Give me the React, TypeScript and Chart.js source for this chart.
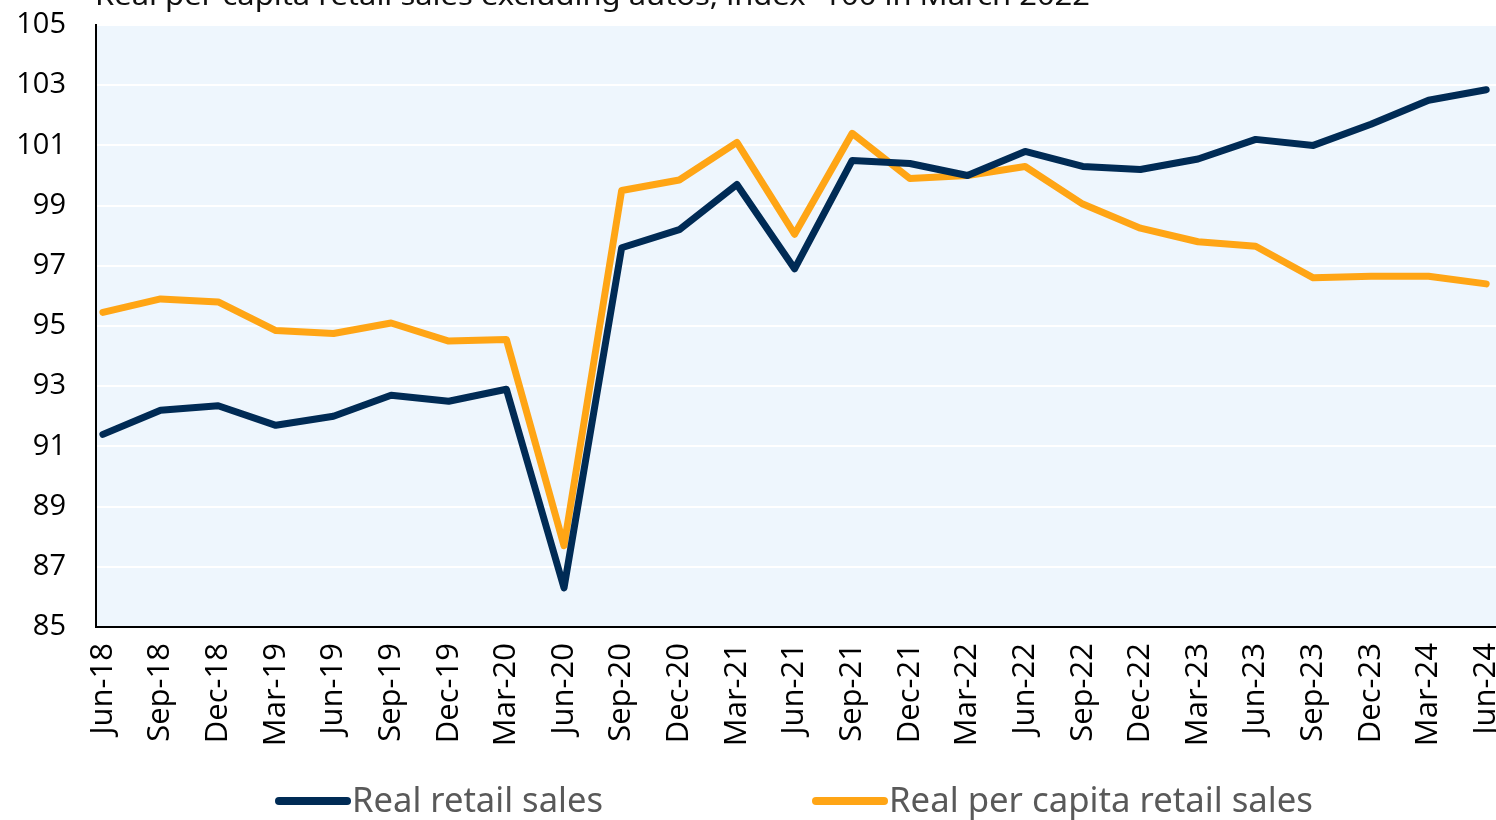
import React, { useEffect, useRef } from "react";
import { Chart, registerables } from "chart.js";

Chart.register(...registerables);

const titleText = "Real per capita retail sales excluding autos, index=100 in March 2022";

const quarterLabels = [
  "Jun-18", "Sep-18", "Dec-18", "Mar-19", "Jun-19", "Sep-19", "Dec-19", "Mar-20",
  "Jun-20", "Sep-20", "Dec-20", "Mar-21", "Jun-21", "Sep-21", "Dec-21", "Mar-22",
  "Jun-22", "Sep-22", "Dec-22", "Mar-23", "Jun-23", "Sep-23", "Dec-23", "Mar-24", "Jun-24",
];

const realRetailSales = [
  91.4, 92.2, 92.35, 91.7, 92.0, 92.7, 92.5, 92.9,
  86.3, 97.6, 98.2, 99.7, 96.9, 100.5, 100.4, 100.0,
  100.8, 100.3, 100.2, 100.55, 101.2, 101.0, 101.7, 102.5, 102.85,
];

const realPerCapitaRetailSales = [
  95.45, 95.9, 95.8, 94.85, 94.75, 95.1, 94.5, 94.55,
  87.7, 99.5, 99.85, 101.1, 98.05, 101.4, 99.9, 100.0,
  100.3, 99.05, 98.25, 97.8, 97.65, 96.6, 96.65, 96.65, 96.4,
];

const seriesNames = ["Real retail sales", "Real per capita retail sales"];
const seriesColors = ["#002B55", "#FFA515"];

const yMin = 85;
const yMax = 105;
const yStep = 2;

function drawFittedText(ctx: CanvasRenderingContext2D, text: string, x: number, y: number, targetW: number) {
  const w = ctx.measureText(text).width;
  const sx = w > 0 ? targetW / w : 1;
  ctx.save();
  ctx.translate(x, y);
  ctx.scale(sx, 1);
  ctx.fillText(text, 0, 0);
  ctx.restore();
}

export default function App() {
  const canvasRef = useRef<HTMLCanvasElement | null>(null);

  useEffect(() => {
    document.body.style.margin = "0";
    const canvas = canvasRef.current;
    if (!canvas) return;

    const bgPlugin = {
      id: "plotBg",
      beforeDraw(chart: any) {
        const { ctx, chartArea } = chart;
        ctx.save();
        ctx.fillStyle = "#EEF6FD";
        ctx.fillRect(chartArea.left, chartArea.top, chartArea.right - chartArea.left, chartArea.bottom - chartArea.top);
        ctx.restore();
      },
    };

    const textPlugin = {
      id: "customText",
      afterDraw(chart: any) {
        const { ctx, chartArea } = chart;
        ctx.save();
        // title (clipped at the top edge, as in the reference)
        ctx.fillStyle = "#111111";
        ctx.font = "28px 'Noto Sans'";
        ctx.textBaseline = "alphabetic";
        ctx.textAlign = "left";
        drawFittedText(ctx, titleText, 95, 5, 995);

        // legend
        const center = (chartArea.left + chartArea.right) / 2;
        const items = [
          { start: center - 521, textW: 251 },
          { start: center + 16, textW: 424 },
        ];
        const ly = 801;
        items.forEach((it, i) => {
          ctx.strokeStyle = seriesColors[i];
          ctx.lineWidth = 8;
          ctx.lineCap = "round";
          ctx.beginPath();
          ctx.moveTo(it.start + 4, ly);
          ctx.lineTo(it.start + 72, ly);
          ctx.stroke();
          ctx.fillStyle = "#595959";
          ctx.font = "34px 'Noto Sans'";
          ctx.textBaseline = "middle";
          drawFittedText(ctx, seriesNames[i], it.start + 77, ly + 1, it.textW);
        });
        ctx.restore();
      },
    };

    const chart = new Chart(canvas, {
      type: "line",
      data: {
        datasets: [
          {
            label: seriesNames[0],
            data: realRetailSales.map((v, i) => ({ x: i, y: v })),
            borderColor: seriesColors[0],
            backgroundColor: seriesColors[0],
            borderWidth: 7,
            borderCapStyle: "round",
            borderJoinStyle: "round",
            pointRadius: 0,
            tension: 0,
          },
          {
            label: seriesNames[1],
            data: realPerCapitaRetailSales.map((v, i) => ({ x: i, y: v })),
            borderColor: seriesColors[1],
            backgroundColor: seriesColors[1],
            borderWidth: 7,
            borderCapStyle: "round",
            borderJoinStyle: "round",
            pointRadius: 0,
            tension: 0,
          },
        ],
      },
      options: {
        animation: false,
        responsive: false,
        maintainAspectRatio: false,
        layout: { padding: { top: 25, right: 0, bottom: 0, left: 0 } },
        plugins: {
          legend: { display: false },
          title: { display: false },
          tooltip: { enabled: false },
        },
        scales: {
          x: {
            type: "linear",
            min: -0.12,
            max: 24.17,
            afterFit(scale: any) {
              scale.height = 193;
              scale.paddingLeft = 0;
              scale.paddingRight = 0;
            },
            ticks: {
              stepSize: 1,
              includeBounds: false,
              autoSkip: false,
              maxRotation: 90,
              minRotation: 90,
              padding: 16,
              color: "#000000",
              font: { family: "'Open Sans'", size: 31 },
              callback: (value: any) => {
                const v = Number(value);
                return Number.isInteger(v) && quarterLabels[v] !== undefined ? quarterLabels[v] : "";
              },
            },
            grid: { display: false, drawTicks: false },
            border: { display: true, color: "#000000", width: 2 },
          },
          y: {
            min: yMin,
            max: yMax,
            afterFit(scale: any) {
              scale.width = 96;
              scale.paddingTop = 0;
              scale.paddingBottom = 0;
            },
            ticks: {
              stepSize: yStep,
              padding: 30,
              color: "#000000",
              font: { family: "'Open Sans'", size: 29 },
            },
            grid: { color: "#FFFFFF", lineWidth: 2, drawTicks: false },
            border: { display: true, color: "#000000", width: 2 },
          },
        },
      },
      plugins: [bgPlugin, textPlugin],
    });

    return () => chart.destroy();
  }, []);

  return (
    <div style={{ width: 1496, height: 820 }}>
      <canvas ref={canvasRef} width={1496} height={820} style={{ display: "block" }} />
    </div>
  );
}
